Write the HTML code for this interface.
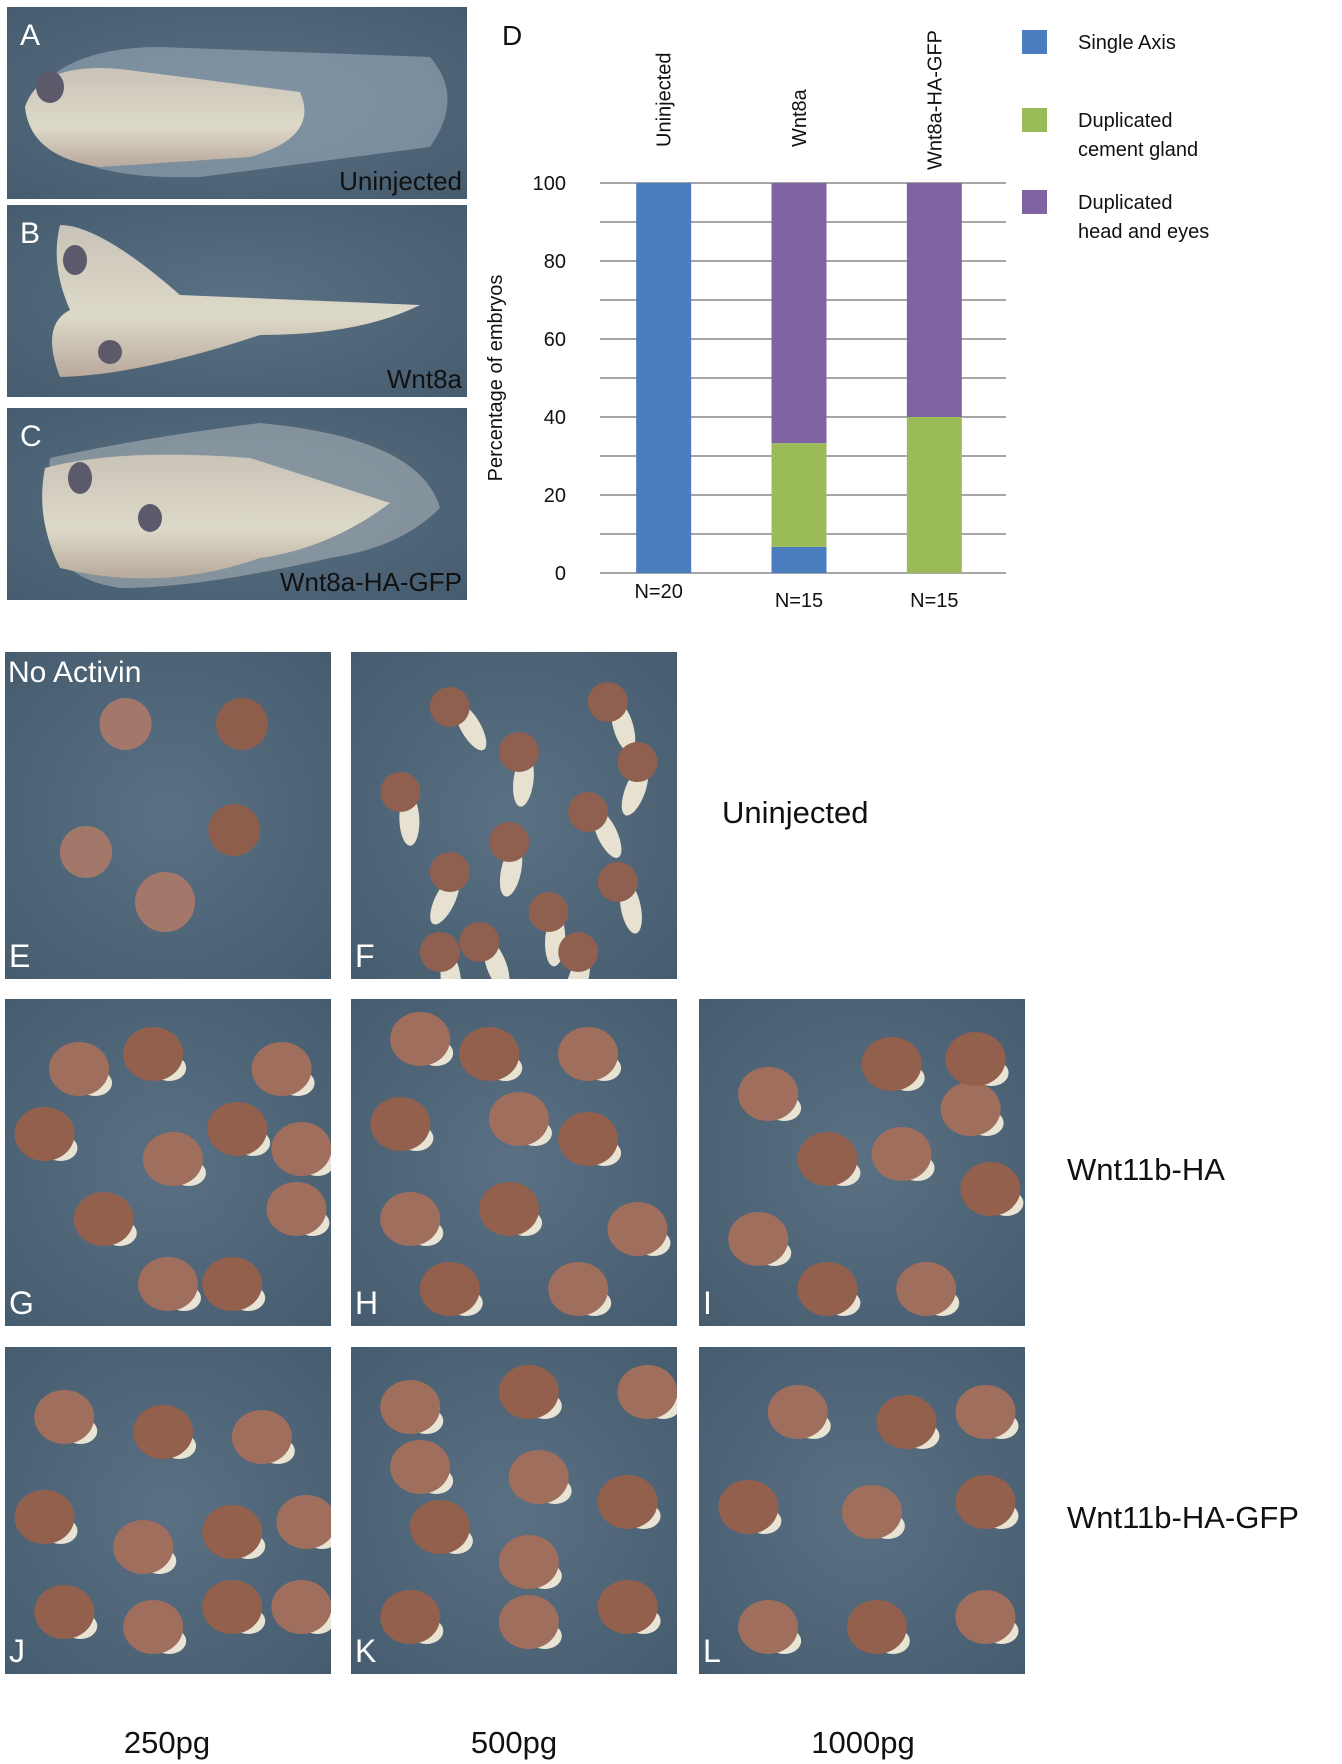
<!DOCTYPE html>
<html><head><meta charset="utf-8">
<style>
html,body{margin:0;padding:0;background:#fff;}
body{width:1342px;height:1764px;position:relative;overflow:hidden;font-family:"Liberation Sans",sans-serif;}
.abs{position:absolute;}
</style></head>
<body>
<svg class="abs" style="left:0;top:0" width="1342" height="1764" id="main">
 <defs id="defs">
  <radialGradient id="bg" cx="50%" cy="50%" r="70%"><stop offset="0" stop-color="#5a7083"/><stop offset="1" stop-color="#465c6f"/></radialGradient>
  <linearGradient id="tad" x1="0" y1="0" x2="0" y2="1"><stop offset="0" stop-color="#c9c3b8"/><stop offset="0.6" stop-color="#ddd9c8"/><stop offset="1" stop-color="#b8a99c"/></linearGradient>
 </defs>
</svg>
<script>
const svg=document.getElementById('main');
const defs=document.getElementById('defs');
const NS='http://www.w3.org/2000/svg';
function mk(tag,attrs,parent){const e=document.createElementNS(NS,tag);for(const k in attrs)e.setAttribute(k,attrs[k]);(parent||svg).appendChild(e);return e;}
let clipN=0;
function clip(x,y,w,h){const id='cp'+(clipN++);const c=mk('clipPath',{id},defs);mk('rect',{x,y,width:w,height:h},c);return 'url(#'+id+')';}

// Tadpole panels
const tadPanels=[{y:7,label:'Uninjected',letter:'A'},{y:205,label:'Wnt8a',letter:'B'},{y:408,label:'Wnt8a-HA-GFP',letter:'C'}];
tadPanels.forEach((p,i)=>{
 const g=mk('g',{'clip-path':clip(7,p.y,460,192)});
 
 
 mk('rect',{x:7,y:p.y,width:460,height:192,fill:'url(#bg)'},g);
 if(i===0){
  mk('path',{d:`M30 ${p.y+95} Q60 ${p.y+40} 160 ${p.y+40} L430 ${p.y+50} Q465 ${p.y+90} 430 ${p.y+140} L200 ${p.y+170} Q40 ${p.y+175} 30 ${p.y+95}Z`,fill:'#9fb0bd',opacity:0.55},g);
  mk('path',{d:`M25 ${p.y+100} Q40 ${p.y+55} 120 ${p.y+62} L300 ${p.y+85} Q320 ${p.y+130} 250 ${p.y+150} L100 ${p.y+160} Q30 ${p.y+150} 25 ${p.y+100}Z`,fill:'url(#tad)'},g);
  mk('ellipse',{cx:50,cy:p.y+80,rx:14,ry:16,fill:'#5c5a6a'},g);
 } else if(i===1){
  mk('path',{d:`M60 ${p.y+20} Q100 ${p.y+20} 180 ${p.y+90} L420 ${p.y+100} Q360 ${p.y+130} 260 ${p.y+130} Q140 ${p.y+170} 60 ${p.y+172} Q40 ${p.y+120} 70 ${p.y+105} Q50 ${p.y+60} 60 ${p.y+20}Z`,fill:'url(#tad)'},g);
  mk('ellipse',{cx:75,cy:p.y+55,rx:12,ry:15,fill:'#5c5a6a'},g);
  mk('ellipse',{cx:110,cy:p.y+147,rx:12,ry:12,fill:'#5c5a6a'},g);
 } else {
  mk('path',{d:`M50 ${p.y+50} Q140 ${p.y+30} 260 ${p.y+15} Q420 ${p.y+30} 440 ${p.y+100} Q400 ${p.y+140} 330 ${p.y+150} Q200 ${p.y+180} 120 ${p.y+180} Q50 ${p.y+170} 45 ${p.y+110}Z`,fill:'#b9bfc2',opacity:0.5},g);
  mk('path',{d:`M45 ${p.y+60} Q120 ${p.y+40} 250 ${p.y+50} L390 ${p.y+95} Q330 ${p.y+140} 260 ${p.y+150} Q160 ${p.y+185} 60 ${p.y+160} Q35 ${p.y+110} 45 ${p.y+60}Z`,fill:'url(#tad)'},g);
  mk('ellipse',{cx:80,cy:p.y+70,rx:12,ry:16,fill:'#5c5a6a'},g);
  mk('ellipse',{cx:150,cy:p.y+110,rx:12,ry:14,fill:'#5c5a6a'},g);
 }
 const t=mk('text',{x:20,y:p.y+38,fill:'#fff','font-size':30,'font-family':'Liberation Sans'},g);t.textContent=p.letter;
 
 const l=mk('text',{x:462,y:p.y+183,fill:'#111','font-size':26,'text-anchor':'end','font-family':'Liberation Sans'},g);l.textContent=p.label;
 
});

// ---- Chart D data ----
const categories=['Uninjected','Wnt8a','Wnt8a-HA-GFP'];
const nLabels=['N=20','N=15','N=15'];
const seriesNames=['Single Axis','Duplicated cement gland','Duplicated head and eyes'];
const singleAxis=[100,6.7,0];
const cementGland=[0,26.6,40];
const headEyes=[0,66.7,60];
const yTicks=[0,20,40,60,80,100];
const colors=['#4a7ebf','#9bbb59','#8064a2'];

const x0=600,x1=1006,yTop=183,yBot=573;
const yScale=v=>yBot-(v/100)*(yBot-yTop);
const band=(x1-x0)/3;
const xCenter=i=>x0+band*(i+0.5)-4;
const barW=55;
const chart=mk('g',{});


for(let v=0;v<=100;v+=10){
 const ln=mk('line',{x1:x0,x2:x1,y1:yScale(v),y2:yScale(v),stroke:'#a6a6a6','stroke-width':2},chart);
 
 
}
yTicks.forEach(v=>{
 const t=mk('text',{x:566,y:yScale(v)+7,'font-size':20,'text-anchor':'end',fill:'#111'},chart);
 t.textContent=v;
 
 
});
const series=[singleAxis,cementGland,headEyes];
categories.forEach((c,i)=>{
 let base=0;
 series.forEach((s,k)=>{
  const v=s[i];
  if(v>0){
   const r=mk('rect',{x:xCenter(i)-barW/2,y:yScale(base+v),width:barW,height:yScale(base)-yScale(base+v),fill:colors[k]},chart);
   
   
  }
  base+=v;
 });
 const cl=mk('text',{transform:`translate(${xCenter(i)+7},${i==2?170:147}) rotate(-90)`,'font-size':20,fill:'#111'},chart);
 cl.textContent=c;
 
 
 const nl=mk('text',{x:xCenter(i)-(i==0?5:0),y:i==0?598:607,'font-size':20,'text-anchor':'middle',fill:'#111'},chart);
 nl.textContent=nLabels[i];
 
 
});
const yl=mk('text',{transform:'translate(502,378) rotate(-90)','font-size':20,'text-anchor':'middle',fill:'#111'},chart);
yl.textContent='Percentage of embryos';


const dl=mk('text',{x:502,y:45,'font-size':28,fill:'#111'},chart);
dl.textContent='D';


const legY=[30,108,190];
const legLines=[['Single Axis'],['Duplicated','cement gland'],['Duplicated','head and eyes']];
legLines.forEach((ls,k)=>{
 const r=mk('rect',{x:1022,y:legY[k],width:25,height:24,fill:colors[k]},chart);
 
 
 ls.forEach((s,j)=>{
  const t=mk('text',{x:1078,y:legY[k]+19+j*29,'font-size':20,fill:'#111'},chart);
  t.textContent=s;
  
  
 });
});

// ---- Embryo photo panels ----
const cols=[5,351,699], rows=[652,999,1347];
const panels=[
 {c:0,r:0,l:'E',round:true},{c:1,r:0,l:'F',elong:true},
 {c:0,r:1,l:'G'},{c:1,r:1,l:'H'},{c:2,r:1,l:'I'},
 {c:0,r:2,l:'J'},{c:1,r:2,l:'K'},{c:2,r:2,l:'L'}
];
const seedPos={
 E:[[122,72],[240,72],[82,200],[232,178],[162,250]],
 F:[[100,55],[170,100],[260,50],[290,110],[50,140],[240,160],[160,190],[270,230],[100,220],[200,260],[130,290],[230,300],[90,300]],
 G:[[75,70],[150,55],[280,70],[40,135],[170,160],[235,130],[295,210],[100,220],[165,285],[230,285],[300,150]],
 H:[[70,40],[140,55],[240,55],[50,125],[170,120],[240,140],[60,220],[160,210],[290,230],[100,290],[230,290]],
 I:[[70,95],[195,65],[275,110],[130,160],[205,155],[295,190],[60,240],[130,290],[230,290],[280,60]],
 J:[[60,70],[160,85],[260,90],[40,170],[140,200],[230,185],[305,175],[60,265],[150,280],[230,260],[300,260]],
 K:[[60,60],[180,45],[300,45],[90,180],[190,130],[280,155],[180,215],[60,270],[180,275],[280,260],[70,120]],
 L:[[100,65],[210,75],[290,65],[50,160],[175,165],[290,155],[70,280],[180,280],[290,270]]
};
panels.forEach(p=>{
 const X=cols[p.c],Y=rows[p.r];
 const g=mk('g',{'clip-path':clip(X,Y,326,327)});
 
 
 mk('rect',{x:X,y:Y,width:326,height:327,fill:'url(#bg)'},g);
 seedPos[p.l].forEach((pt,i)=>{
  const cx=X+pt[0]*326/330, cy=Y+pt[1];
  if(p.round){
   mk('circle',{cx,cy,r:i==4?30:26,fill:i%2?'#8d5e4c':'#a3786a'},g);
  } else if(p.elong){
   mk('ellipse',{cx:cx+8,cy:cy+28,rx:10,ry:26,fill:'#e6e1d0',transform:`rotate(${(i*37)%60-30} ${cx} ${cy})`},g);
   mk('circle',{cx,cy,r:20,fill:'#8f5f50'},g);
  } else {
   mk('ellipse',{cx:cx+16,cy:cy+14,rx:17,ry:13,fill:'#e8e3d2'},g);
   mk('ellipse',{cx,cy,rx:30,ry:27,fill:i%2?'#93604e':'#a06e5c'},g);
  }
 });
 const t=mk('text',{x:X+4,y:Y+315,fill:'#fff','font-size':32},g);
 t.textContent=p.l;
 
 
});
const na=mk('text',{x:8,y:682,fill:'#fff','font-size':30},svg);
na.textContent='No Activin';



const rowLabels=[['Uninjected',722,823],['Wnt11b-HA',1067,1180],['Wnt11b-HA-GFP',1067,1528]];
rowLabels.forEach(r=>{
 const t=mk('text',{x:r[1],y:r[2],'font-size':31,fill:'#111'},svg);
 t.textContent=r[0];
 
 
});
const doseLabels=[['250pg',167],['500pg',514],['1000pg',863]];
doseLabels.forEach(d=>{
 const t=mk('text',{x:d[1],y:1753,'font-size':31,fill:'#111','text-anchor':'middle'},svg);
 t.textContent=d[0];
 
 
});
</script>
</body></html>
